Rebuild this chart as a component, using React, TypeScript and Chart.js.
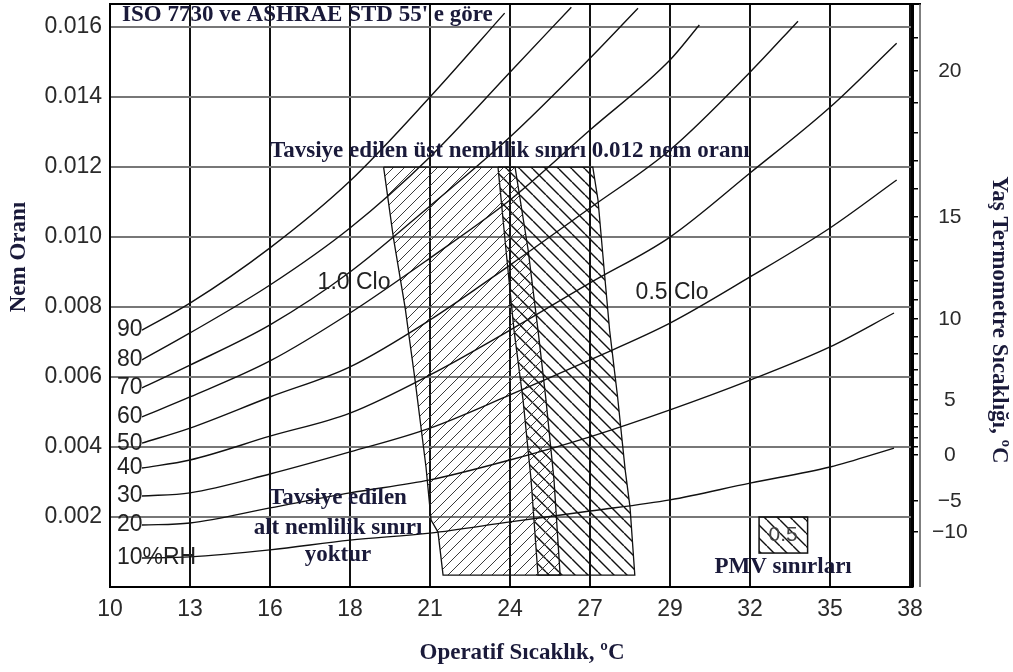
import { useEffect, useRef } from 'react';
import { Chart, registerables } from 'chart.js';

Chart.register(...registerables);

// ---------- DATA ----------
const xTickLabels = [10, 13, 16, 18, 21, 24, 27, 29, 32, 35, 38];
const yTickValues = [0, 0.002, 0.004, 0.006, 0.008, 0.01, 0.012, 0.014, 0.016];
const yMax = 0.01666;

// wet-bulb (right axis) ticks: temperature and its position on humidity-ratio axis
const wbTickTemps = [21, 20, 19, 18, 17, 16, 15, 14, 13, 12, 11, 10, 9, 8, 7, 6, 5, 4, 3, 2, 1, 0, -5, -10];
const wbTickPos = [0.01569, 0.01474, 0.01383, 0.01297, 0.01217, 0.01137, 0.01057, 0.00991, 0.00931, 0.00874, 0.0082, 0.00766, 0.00714, 0.00666, 0.0062, 0.00577, 0.00534, 0.00494, 0.00457, 0.00426, 0.004, 0.00377, 0.00246, 0.00157];

// relative-humidity curves (operative temperature °C, humidity ratio)
const rhLabels = ['90', '80', '70', '60', '50', '40', '30', '20', '10%RH'];
const rh90T = [11.2, 13, 16, 18, 21, 23.8];
const rh90W = [0.00734, 0.00811, 0.00969, 0.0116, 0.014, 0.0164];
const rh80T = [11.2, 13, 16, 18, 21, 24, 26.3];
const rh80W = [0.00649, 0.00726, 0.00863, 0.01026, 0.01229, 0.01471, 0.01657];
const rh70T = [11.2, 13, 16, 18, 21, 24, 27, 28.2];
const rh70W = [0.00569, 0.00634, 0.00749, 0.009, 0.01089, 0.01286, 0.01511, 0.01654];
const rh60T = [11.2, 13, 16, 18, 21, 24, 27, 29, 30.1];
const rh60W = [0.00486, 0.00543, 0.00646, 0.00783, 0.0094, 0.01106, 0.01306, 0.01506, 0.01606];
const rh50T = [11.2, 13, 16, 18, 21, 24, 27, 29, 32, 33.8];
const rh50W = [0.00411, 0.00454, 0.00543, 0.00629, 0.00763, 0.0092, 0.01083, 0.01249, 0.01471, 0.01617];
const rh40T = [11.2, 13, 16, 18, 21, 24, 27, 29, 32, 35, 37.5];
const rh40W = [0.0034, 0.00363, 0.00431, 0.00497, 0.00606, 0.00734, 0.00869, 0.01, 0.01183, 0.01371, 0.01554];
const rh30T = [11.2, 13, 16, 18, 21, 24, 27, 29, 32, 35, 37.5];
const rh30W = [0.0026, 0.00269, 0.00323, 0.00386, 0.00454, 0.00549, 0.00649, 0.00754, 0.00886, 0.01026, 0.01163];
const rh20T = [11.2, 13, 16, 18, 21, 24, 27, 29, 32, 35, 37.4];
const rh20W = [0.00177, 0.00183, 0.00226, 0.00269, 0.00306, 0.00363, 0.00429, 0.00506, 0.00591, 0.00686, 0.00783];
const rh10T = [11.2, 13, 16, 18, 21, 24, 27, 29, 32, 35, 37.4];
const rh10W = [0.00083, 0.00086, 0.00106, 0.00134, 0.00154, 0.00186, 0.00217, 0.00249, 0.00297, 0.00343, 0.00397];

// comfort zones (closed polygons)
const zone10CloT = [19.26, 24.19, 24.68, 25.05, 25.35, 25.65, 25.88, 21.49, 21.3, 21.04, 20.85, 20.44, 20.07, 19.63, 19.26];
const zone10CloW = [0.012, 0.012, 0.00963, 0.00734, 0.00534, 0.00306, 0.00034, 0.00034, 0.00157, 0.00191, 0.00343, 0.00591, 0.00797, 0.00997, 0.012];
const zone05CloT = [23.55, 27.07, 27.2, 27.37, 27.49, 27.69, 27.88, 28.0, 28.12, 25.05, 24.79, 24.49, 24.15, 23.85, 23.55];
const zone05CloW = [0.012, 0.012, 0.01106, 0.00886, 0.00734, 0.00543, 0.00334, 0.00229, 0.00034, 0.00034, 0.00306, 0.00534, 0.00734, 0.00963, 0.012];

// ---------- helpers ----------
const SANS = '"Liberation Sans", Arial, sans-serif';
const SERIF = '"Liberation Serif", "Times New Roman", serif';
const TXT = '#1a1a3a';

function toPos(t: number): number {
  const n = xTickLabels.length;
  if (t <= xTickLabels[0]) return (t - xTickLabels[0]) / (xTickLabels[1] - xTickLabels[0]);
  for (let i = 0; i < n - 1; i++) {
    if (t <= xTickLabels[i + 1]) return i + (t - xTickLabels[i]) / (xTickLabels[i + 1] - xTickLabels[i]);
  }
  return n - 1 + (t - xTickLabels[n - 1]) / (xTickLabels[n - 1] - xTickLabels[n - 2]);
}

function makeHatch(size: number, dir: string, width: number, color: string): CanvasPattern {
  const c = document.createElement('canvas');
  c.width = size;
  c.height = size;
  const g = c.getContext('2d')!;
  g.strokeStyle = color;
  g.lineWidth = width;
  g.beginPath();
  for (const k of [-size, 0, size]) {
    if (dir === '/') {
      g.moveTo(k, size);
      g.lineTo(k + size, 0);
    } else {
      g.moveTo(k, 0);
      g.lineTo(k + size, size);
    }
  }
  g.stroke();
  return g.createPattern(c, 'repeat')!;
}

const pts = (T: number[], W: number[]) => T.map((t, i) => ({ x: toPos(t), y: W[i] }));

const noPad = (s: any) => {
  s.paddingTop = 0;
  s.paddingBottom = 0;
  s.paddingLeft = 0;
  s.paddingRight = 0;
};

export default function App() {
  const ref = useRef<HTMLCanvasElement>(null);

  useEffect(() => {
    const canvas = ref.current!;
    const hatchA = makeHatch(11, '/', 1, '#3a3a3a');
    const hatchB = makeHatch(13, '\\', 1.4, '#111');

    const rhSeries: [number[], number[]][] = [
      [rh90T, rh90W], [rh80T, rh80W], [rh70T, rh70W], [rh60T, rh60W], [rh50T, rh50W],
      [rh40T, rh40W], [rh30T, rh30W], [rh20T, rh20W], [rh10T, rh10W],
    ];

    const deco = {
      id: 'deco',
      beforeDatasetsDraw(chart: any) {
        const { ctx, chartArea } = chart;
        ctx.save();
        ctx.strokeStyle = '#000';
        ctx.lineWidth = 2;
        ctx.beginPath();
        ctx.moveTo(chartArea.left - 1, chartArea.top);
        ctx.lineTo(chartArea.right + 9, chartArea.top);
        ctx.stroke();
        ctx.strokeStyle = '#555';
        ctx.lineWidth = 1.5;
        ctx.beginPath();
        ctx.moveTo(chartArea.right + 8, chartArea.top);
        ctx.lineTo(chartArea.right + 8, chartArea.bottom);
        ctx.stroke();
        ctx.restore();
      },
      afterDatasetsDraw(chart: any) {
        const { ctx, scales } = chart;
        const px = (t: number) => scales.x.getPixelForValue(toPos(t));
        const py = (w: number) => scales.y.getPixelForValue(w);
        ctx.save();
        ctx.textBaseline = 'middle';

        // RH labels
        ctx.fillStyle = '#222';
        ctx.font = `23px ${SANS}`;
        ctx.textAlign = 'left';
        rhSeries.forEach(([, W], i) => {
          ctx.fillText(rhLabels[i], px(10.26), py(W[0]));
        });

        // Clo labels
        ctx.fillText('1.0 Clo', px(17.19), py(0.00871));
        ctx.fillText('0.5 Clo', px(28.14), py(0.0084));

        // serif bold annotations
        ctx.fillStyle = TXT;
        ctx.font = `bold 23px ${SERIF}`;
        ctx.textAlign = 'left';
        ctx.fillText("ISO 7730 ve ASHRAE STD 55' e göre", px(10.45), py(0.01634));
        ctx.fillText('Tavsiye edilen üst nemlilik sınırı 0.012 nem oranı', px(16.0), py(0.01246));
        ctx.textAlign = 'center';
        ctx.fillText('Tavsiye edilen', px(17.7), py(0.00254));
        ctx.fillText('alt nemlilik sınırı', px(17.7), py(0.00169));
        ctx.fillText('yoktur', px(17.7), py(0.00091));
        ctx.fillText('PMV sınırları', px(33.24), py(0.00057));

        // legend box
        const bx0 = px(32.34), bx1 = px(34.16), by0 = py(0.002), by1 = py(0.00097);
        ctx.fillStyle = hatchB;
        ctx.fillRect(bx0, by0, bx1 - bx0, by1 - by0);
        ctx.strokeStyle = '#111';
        ctx.lineWidth = 1.5;
        ctx.strokeRect(bx0, by0, bx1 - bx0, by1 - by0);
        ctx.fillStyle = '#444';
        ctx.font = `21px ${SANS}`;
        ctx.fillText('0.5', px(33.24), py(0.00149));

        // axis titles
        ctx.fillStyle = TXT;
        ctx.font = `bold 23px ${SERIF}`;
        ctx.fillText('Operatif Sıcaklık, ºC', 522, 653);
        ctx.save();
        ctx.translate(19, 257);
        ctx.rotate(-Math.PI / 2);
        ctx.fillText('Nem Oranı', 0, 0);
        ctx.restore();
        ctx.save();
        ctx.translate(999, 320);
        ctx.rotate(Math.PI / 2);
        ctx.fillText('Yaş Termometre Sıcaklığı, ºC', 0, 0);
        ctx.restore();
        ctx.restore();
      },
    };

    const chart = new Chart(canvas, {
      type: 'line',
      data: {
        datasets: [
          ...rhSeries.map(([T, W]) => ({
            data: pts(T, W),
            borderColor: '#111',
            borderWidth: 1.4,
            pointRadius: 0,
            fill: false,
            cubicInterpolationMode: 'monotone' as const,
            order: 0,
          })),
          {
            data: pts(zone10CloT, zone10CloW),
            borderColor: '#111',
            borderWidth: 1.3,
            backgroundColor: hatchA,
            fill: 'shape',
            pointRadius: 0,
            tension: 0,
            order: 1,
          },
          {
            data: pts(zone05CloT, zone05CloW),
            borderColor: '#111',
            borderWidth: 1.3,
            backgroundColor: hatchB,
            fill: 'shape',
            pointRadius: 0,
            tension: 0,
            order: 2,
          },
        ] as any,
      },
      options: {
        responsive: false,
        animation: false,
        devicePixelRatio: 1,
        layout: { padding: { top: 4, left: 0, right: 0, bottom: 0 } },
        plugins: { legend: { display: false }, tooltip: { enabled: false } },
        events: [],
        scales: {
          x: {
            type: 'linear',
            min: 0,
            max: 10.025,
            afterBuildTicks: (s: any) => {
              s.ticks = xTickLabels.map((_, i) => ({ value: i }));
            },
            afterFit: (s: any) => {
              s.height = 85;
              noPad(s);
            },
            ticks: {
              autoSkip: false,
              maxRotation: 0,
              padding: 9,
              color: '#2a2a2a',
              font: { family: SANS, size: 23 },
              callback: (v: any) => String(xTickLabels[Math.round(Number(v))]),
            },
            grid: { color: '#111', lineWidth: 2, drawTicks: false },
            border: { color: '#000', width: 2 },
          },
          y: {
            type: 'linear',
            position: 'left',
            min: 0,
            max: yMax,
            afterBuildTicks: (s: any) => {
              s.ticks = yTickValues.map((v) => ({ value: v }));
            },
            afterFit: (s: any) => {
              s.width = 110;
              noPad(s);
            },
            ticks: {
              autoSkip: false,
              padding: 8,
              color: '#2a2a2a',
              font: { family: SANS, size: 23 },
              callback: (v: any) => (Number(v) === 0 ? '' : Number(v).toFixed(3)),
            },
            grid: { color: '#777', lineWidth: 2, drawTicks: false },
            border: { color: '#000', width: 2 },
          },
          y2: {
            type: 'linear',
            position: 'right',
            min: 0,
            max: yMax,
            afterBuildTicks: (s: any) => {
              s.ticks = wbTickPos.map((v) => ({ value: v }));
            },
            afterFit: (s: any) => {
              s.width = 101;
              noPad(s);
            },
            ticks: {
              autoSkip: false,
              padding: 14,
              crossAlign: 'center',
              color: '#2a2a2a',
              font: { family: SANS, size: 21 },
              callback: (_v: any, i: number) => {
                const t = wbTickTemps[i];
                if (t % 5 !== 0) return '';
                return t < 0 ? '\u2212' + Math.abs(t) : String(t);
              },
            },
            grid: { drawOnChartArea: false, tickLength: 6, color: '#000', lineWidth: 1.5 },
            border: { color: '#000', width: 3 },
          },
        },
      } as any,
      plugins: [deco],
    });

    return () => chart.destroy();
  }, []);

  return (
    <div style={{ position: 'fixed', left: 0, top: 0, width: 1013, height: 672, background: '#fff' }}>
      <canvas ref={ref} width={1013} height={672} style={{ display: 'block' }} />
    </div>
  );
}
